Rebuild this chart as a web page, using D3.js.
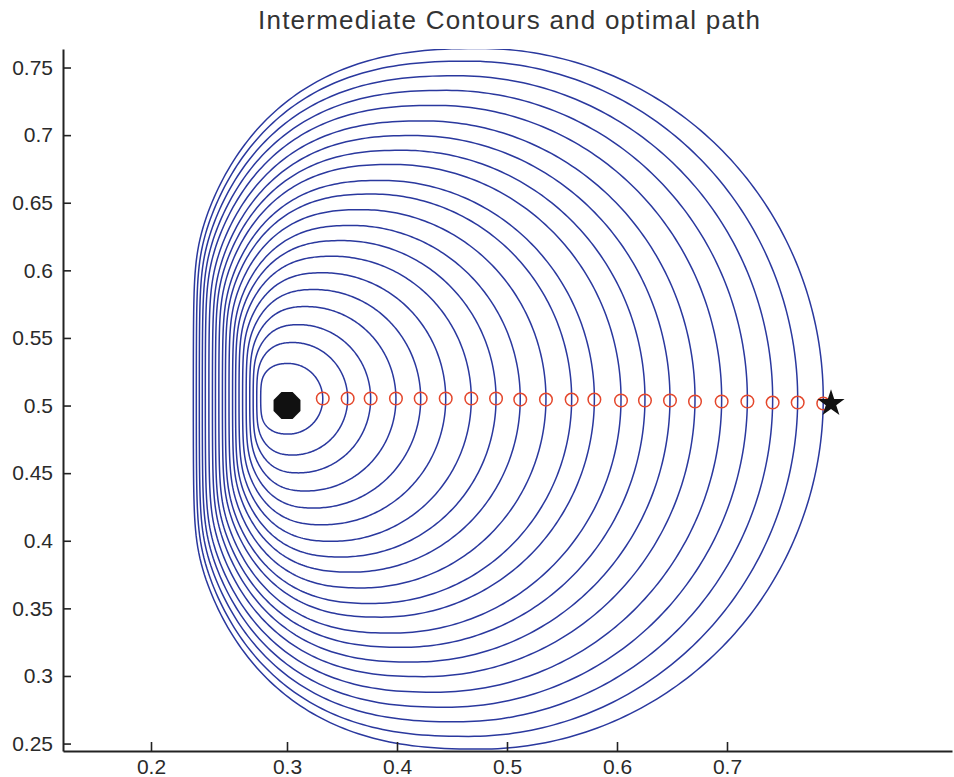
<!DOCTYPE html>
<html>
<head>
<meta charset="utf-8">
<script src="https://cdn.jsdelivr.net/npm/d3@7"></script>
<style>
body { margin: 0; background: #fff; }
text { font-family: "Liberation Sans", Arial, sans-serif; }
</style>
</head>
<body>
<svg id="chart" width="954" height="777"></svg>
<script>
// where each of the 21 fronts crosses the path (right side)
var contourRight = [0.3263, 0.3446, 0.3615, 0.3801, 0.3983, 0.4167, 0.4355, 0.4537, 0.4715, 0.4904, 0.5093,
                    0.5260, 0.5456, 0.5632, 0.5816, 0.6000, 0.6196, 0.6385, 0.6571, 0.6755, 0.6943];
// leftmost x of each front (they pile up in the slow band on the left)
var contourLeft = [0.2801, 0.2772, 0.2746, 0.2721, 0.2695, 0.2669, 0.2643, 0.2618, 0.2596, 0.2570, 0.2544,
                   0.2522, 0.2496, 0.2471, 0.2449, 0.2423, 0.2397, 0.2375, 0.2353, 0.2331, 0.2309];
// x of the highest point of each front
var contourTopX = [0.3010, 0.3044, 0.3086, 0.3141, 0.3201, 0.3265, 0.3335, 0.3404, 0.3474, 0.3549, 0.3626,
                   0.3695, 0.3776, 0.3851, 0.3929, 0.4008, 0.4093, 0.4174, 0.4255, 0.4335, 0.4418];
// y of the highest point of each front
var contourTopY = [0.5311, 0.5466, 0.5598, 0.5732, 0.5858, 0.5982, 0.6104, 0.6220, 0.6332, 0.6449, 0.6564,
                   0.6665, 0.6783, 0.6888, 0.6997, 0.7105, 0.7220, 0.7331, 0.7439, 0.7547, 0.7641];
var contourMidY = 0.505;

// optimal path markers (red o)
var pathX = contourRight;
var pathY = [0.5052, 0.5052, 0.5052, 0.5052, 0.5052, 0.5052, 0.5052, 0.5052, 0.5044, 0.5044, 0.5044,
             0.5044, 0.5037, 0.5037, 0.5037, 0.5030, 0.5030, 0.5030, 0.5022, 0.5022, 0.5015];

var startPoint = [0.3, 0.5];
var goalPoint = [0.7, 0.5015];

var xTicks = [0.2, 0.3, 0.4, 0.5, 0.6, 0.7];
var yTicks = [0.25, 0.3, 0.35, 0.4, 0.45, 0.5, 0.55, 0.6, 0.65, 0.7, 0.75];

var plotLeft = 63, plotRight = 952, plotTop = 49, plotBottom = 751;

var svg = d3.select("#chart");

var x = d3.scaleLinear().domain([0.13529, 0.78897]).range([plotLeft, plotRight]);
var y = d3.scaleLinear().domain([0.2445, 0.7637]).range([plotBottom, plotTop]);
// the tick labels on the printed x axis are not evenly spaced
var xTick = d3.scaleLinear().domain([0.13529, 0.3, 0.7, 0.9045]).range([plotLeft, 287, 727, plotRight]);

svg.append("clipPath").attr("id", "plotclip")
  .append("rect")
  .attr("x", plotLeft).attr("y", plotTop)
  .attr("width", plotRight - plotLeft).attr("height", plotBottom - plotTop);

// right half: plain ellipse; left half: squarish superellipse pressed on a soft wall at its left edge
function frontPoints(i) {
  var cx = x(contourTopX[i]), cy = y(contourMidY);
  var xr = x(contourRight[i]), xl = x(contourLeft[i]);
  var ry = cy - y(contourTopY[i]);
  var rxl = 1.04 * (cx - xl), soft = 1.5 + 0.008 * ry;
  var pts = [];
  for (var j = 0; j < 360; j++) {
    var t = j / 360 * 2 * Math.PI;
    var c = Math.cos(t), s = Math.sin(t);
    var px, py;
    if (c >= 0) {
      px = cx + (xr - cx) * c;
      py = ry * s;
    } else {
      var e = 2 / 2.5;
      var xe = cx - rxl * Math.pow(-c, e);
      px = xl + soft * Math.log1p(Math.exp((xe - xl) / soft));
      py = ry * Math.sign(s) * Math.pow(Math.abs(s), e);
    }
    pts.push([px, cy - py]);
  }
  return pts;
}

var line = d3.line().curve(d3.curveLinearClosed);

svg.append("g")
  .attr("clip-path", "url(#plotclip)")
  .selectAll("path")
  .data(d3.range(contourRight.length))
  .join("path")
  .attr("d", function(i) { return line(frontPoints(i)); })
  .attr("fill", "none")
  .attr("stroke", "#2a389e")
  .attr("stroke-width", 1.5);

// path markers
svg.append("g")
  .selectAll("circle")
  .data(pathX)
  .join("circle")
  .attr("cx", function(d) { return x(d); })
  .attr("cy", function(d, i) { return y(pathY[i]); })
  .attr("r", 6.3)
  .attr("fill", "none")
  .attr("stroke", "#e4472c")
  .attr("stroke-width", 1.5);

// filled octagon like matlab's big marker
var symbolOctagon = {
  draw: function(ctx, size) {
    var r = Math.sqrt(size / (2 * Math.SQRT2));
    for (var k = 0; k < 8; k++) {
      var a = (k + 0.5) * Math.PI / 4;
      if (k === 0) ctx.moveTo(r * Math.cos(a), r * Math.sin(a));
      else ctx.lineTo(r * Math.cos(a), r * Math.sin(a));
    }
    ctx.closePath();
  }
};

svg.append("path")
  .attr("transform", "translate(" + x(startPoint[0]) + "," + y(startPoint[1]) + ")")
  .attr("d", d3.symbol().type(symbolOctagon).size(600)())
  .attr("fill", "#111");

svg.append("path")
  .attr("transform", "translate(" + x(goalPoint[0]) + "," + y(goalPoint[1]) + ")")
  .attr("d", d3.symbol().type(d3.symbolStar).size(230)())
  .attr("fill", "#111");

// axes
var xAxis = d3.axisBottom(xTick)
  .tickValues(xTicks)
  .tickFormat(d3.format("~g"))
  .tickSize(-9)
  .tickSizeOuter(0)
  .tickPadding(8);

var yAxis = d3.axisLeft(y)
  .tickValues(yTicks)
  .tickFormat(d3.format("~g"))
  .tickSize(-8)
  .tickSizeOuter(0)
  .tickPadding(10);

var gx = svg.append("g").attr("transform", "translate(0," + plotBottom + ")").call(xAxis);
var gy = svg.append("g").attr("transform", "translate(" + plotLeft + ",0)").call(yAxis);

[gx, gy].forEach(function(g) {
  g.attr("font-size", 21).attr("font-family", "'Liberation Sans', Arial, sans-serif");
  g.select(".domain").attr("stroke", "#222").attr("stroke-width", 2);
  g.selectAll(".tick line").attr("stroke", "#222").attr("stroke-width", 1.6);
  g.selectAll(".tick text").attr("fill", "#2a2a2a");
});

svg.append("text")
  .attr("x", 509)
  .attr("y", 29)
  .attr("text-anchor", "middle")
  .attr("fill", "#333")
  .attr("textLength", 502)
  .attr("lengthAdjust", "spacing")
  .style("font-size", "26px")
  .text("Intermediate Contours and optimal path");
</script>
</body>
</html>
